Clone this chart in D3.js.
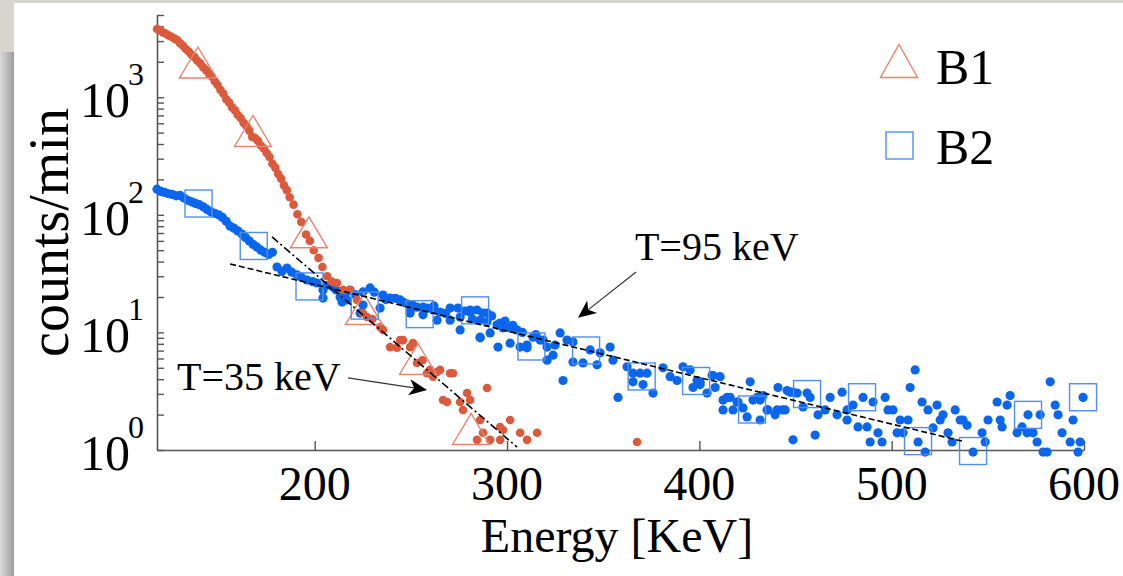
<!DOCTYPE html>
<html>
<head>
<meta charset="utf-8">
<script src="https://cdn.jsdelivr.net/npm/d3@7"></script>
<style>
  body { margin: 0; background: #d6d6cf; }
  svg { display: block; }
</style>
</head>
<body>
<svg id="chart" width="1123" height="576"></svg>
<script>
// ---- data ----
// B1: [energy keV, counts/min]
const b1Points = [
  [118, 3800], [119.5, 3700], [121, 3560], [122.5, 3480], [124, 3350], [125.5, 3270],
  [127, 3150], [128.5, 3060], [130, 2880], [131.5, 2740], [133, 2570], [134.5, 2450],
  [136, 2290], [137.5, 2190], [139, 2040], [140.5, 1940], [142, 1800], [143.5, 1700],
  [145, 1580], [146.5, 1500], [148, 1370], [149.5, 1270], [151, 1150], [152.5, 1070],
  [154, 960], [155.5, 900], [157, 820], [158.5, 775], [160, 705], [161.5, 665],
  [163, 605], [164.5, 570], [166, 520], [167.5, 460], [169, 450], [170.5, 425],
  [172, 388], [173.5, 366], [175, 335], [176.5, 310], [178, 272], [179.5, 252],
  [181, 222], [182.5, 203], [184, 178], [185.5, 162], [187, 141], [189, 122],
  [191, 101], [193, 87], [195.5, 68], [197.5, 60], [199.5, 50], [202, 43],
  [204, 36], [206.5, 30], [209, 27], [211.6, 26.3], [214.8, 23], [218.4, 22.9],
  [222, 18.9], [225, 14.6], [227.2, 13.5], [230, 13], [234, 11.1], [235.5, 10.5],
  [239.2, 7.5], [242.8, 7.4], [244.4, 8.6], [245.9, 8.6], [249.6, 7.5], [251.1, 8.1],
  [253.2, 5.5], [256, 5.8], [258.4, 4.5], [260, 4.8], [261.5, 4.2], [263.6, 4.6],
  [265.2, 4.8], [266.7, 2.66], [268.8, 2.56], [270.4, 4.5], [271.9, 4.5], [275.6, 2.56],
  [277.1, 2.19], [279.2, 3.05], [280.8, 2.66], [284.4, 1.22], [286, 1.8], [287.5, 1.4],
  [289.6, 3.37], [291.2, 1.22], [296.4, 1.22], [296.4, 1.57], [297.9, 1.48], [301.6, 1.8],
  [306.8, 1.4], [310.4, 1.22], [315.6, 1.4], [367.6, 1.17]
]

// B2: [energy keV, counts/min]
const b2Points = [
  [118, 165], [120, 158], [122, 155], [124, 151], [126, 149], [128, 145], [130, 146],
  [132, 139], [134, 133], [136, 129], [138, 125], [140, 122], [142, 117], [144, 111],
  [146, 106], [148, 103], [150, 100], [152, 95], [154, 88], [156, 80], [158, 77],
  [160, 73], [162, 69], [164, 64], [166, 60], [168, 56], [170, 53], [172, 50],
  [174, 48], [176, 46], [178, 48],
  [180.4, 36], [185.6, 35.3], [190.8, 30.8], [196, 27.9], [201.2, 26.3], [204.3, 22.9],
  [209.5, 24.3], [213.2, 20], [218.4, 22.9], [225.1, 22.1], [228.8, 23.9], [235.5, 20.8],
  [239.2, 19.6], [245.9, 18.1], [253.2, 16.4], [258.4, 16.1], [265.2, 14.9], [270.4, 16.1],
  [275.6, 13.5], [280.8, 14.9], [287.5, 14.6], [289.6, 12.3], [296.4, 12], [301.6, 10.9],
  [305.2, 10.5], [313.5, 9.1], [318.7, 8.6], [320.8, 7.5],
  [183, 33], [188, 32.5], [193, 29.5], [199, 27], [206, 25], [211, 23], [216, 21.5],
  [221, 21], [231, 22], [237, 19], [242, 19.5], [248, 17.5], [251, 17], [262, 16.8],
  [268, 14.5], [278, 15.2], [282, 13], [292, 13.8], [299, 12.5], [303, 11.5], [308, 10],
  [315, 9.6], [325, 7.8],
  [204.3, 19.6], [214.2, 18.1], [216.8, 18.9], [225.1, 17.1], [234, 16.1], [249.6, 14.6],
  [256.3, 14.1], [270.4, 12.7], [275.6, 10.5], [286, 9.1], [295.3, 7.5], [301.6, 8.1],
  [310.4, 7.4], [320.8, 5.8], [223.6, 14.6],
  [244.4, 18.9], [249.6, 15.5], [256.3, 16.4], [261.5, 15.5], [263.6, 12.7], [274.5, 16.1],
  [280.8, 15.5], [284.4, 15.5], [289.6, 14.6], [286, 12.7], [291.2, 9.9], [294.8, 11.6],
  [297.9, 10.9], [286, 9.0], [306.8, 7.5], [310.4, 7.8], [317.2, 8.6], [323.9, 6.4],
  [327.6, 9.9], [331.2, 8.6], [334.3, 5.6], [339.5, 5.5], [343.2, 7.1], [348.4, 6.7],
  [353.6, 7.5], [355.1, 5.8], [329.1, 3.9], [357.7, 2.8], [334.3, 8.3], [346.8, 5.3],
  [362.4, 5.1], [365.5, 4.5], [369.2, 4.5], [372.8, 4.5], [375.9, 3.05], [365.5, 3.8],
  [370.7, 3.6], [381.1, 5.0], [384.8, 4.2], [388.4, 3.9], [391.5, 5.1], [395.2, 4.8],
  [396.7, 3.4], [400.4, 3.6], [404, 3.05], [407.1, 4.3], [410.8, 4.2], [398.8, 3.9],
  [412.3, 2.66], [416, 2.8], [419.6, 2.56], [426.4, 3.8], [427.9, 2.66], [412.3, 2.19],
  [417.5, 2.19], [422.7, 2.28], [431.6, 1.8], [435.2, 2.19], [440.4, 2.19], [445.6, 3.2],
  [448.7, 3.1], [448.7, 1.22], [424.8, 1.91], [431.6, 2.66],
  [400.4, 3.8], [406.6, 4.3], [408.2, 3.4], [414.4, 2.8], [420.1, 2.56], [430, 2.8],
  [433.1, 2.9], [435.7, 2.19], [439.4, 1.99], [440.9, 3.4], [443, 2.19], [444.6, 2.19],
  [447.2, 3.1], [450.8, 3.05], [453.9, 2.32], [456, 3.05], [457.6, 2.8], [460.2, 1.34],
  [461.7, 1.99], [465.4, 2.19], [468, 2.8], [471.6, 1.99], [474.2, 3.1], [476.8, 1.8],
  [476.8, 2.19], [479.9, 2.41], [482.5, 1.57], [485.1, 2.8], [487.2, 1.57], [488.8, 1.17],
  [490.3, 2.56], [492.9, 1.4], [495, 1.17], [496.6, 2.8], [498.1, 2.19], [500.7, 2.19],
  [502.8, 1.4], [504.4, 1.8], [505.9, 1.4], [508.5, 1.8], [509.6, 3.4], [512.2, 4.8],
  [513.7, 1.17], [515.8, 2.56], [517.4, 0.96], [518.9, 2.19], [521.5, 1.54], [523.6, 2.41],
  [525.2, 1.8], [526.7, 1.99], [529.3, 1.4], [531.4, 1.17], [533, 2.19], [535.6, 1.8],
  [537.1, 1.8], [539.2, 1.62], [542.3, 0.96], [547, 1.4], [548.6, 1.17], [550.1, 1.8],
  [554.8, 2.56], [556.4, 1.8], [557.4, 1.57], [560, 2.41], [561.6, 2.9], [565.2, 1.4],
  [567.8, 1.57], [570.4, 1.4], [570.9, 1.99], [573.5, 1.4], [575.6, 1.17], [577.2, 1.99],
  [578.7, 0.96], [580.8, 0.96], [582.4, 3.8], [585, 2.41], [586.5, 1.99], [588.6, 1.4],
  [592.8, 1.17], [594.3, 1.8], [596.9, 0.96], [598, 1.17], [599.5, 2.8]
]

// open markers drawn on top of the data
const b1Markers = [[139.3, 1973], [167.9, 516], [197, 71], [225.6, 15.8], [253.7, 5.94], [281.3, 1.51]]
const b2Markers = [
  [139.6, 124.7], [168.3, 54.3], [197.3, 24.6], [226, 16.9], [254.6, 14.3], [283.4, 15.4],
  [312.7, 7.59], [341.1, 7.02], [370, 4.22], [398.3, 3.86], [427.4, 2.21], [456, 2.99],
  [484.6, 2.81], [513.7, 1.19], [542.3, 0.98], [570.9, 1.99], [599.5, 2.81]
]

// exponential fits (end points)
const fit95 = [[156, 38.2], [536.6, 1.19]]
const fit35 = [[177.8, 64.8], [305.2, 1.06]]

// annotations: label position and arrow [from, to]
const notes = [
  { text: 'T=95 keV', at: [366.5, 41.3], from: [367.1, 32.6], to: [336.9, 13.3] },
  { text: 'T=35 keV', at: [128.4, 3.24], from: [217.3, 4.1], to: [258.4, 3.24] },
]

const xTicks = [200, 300, 400, 500, 600]
const yDecades = [1, 10, 100, 1000]

// ---- drawing ----
const width = 1123
const height = 576
const font = '"Liberation Serif", "Times New Roman", serif'
const red = '#dc5a3c'
const blue = '#0a66ee'

const svg = d3.select('#chart')

// page look: white sheet with a shadow on the left
const defs = svg.append('defs')
const grad = defs.append('linearGradient').attr('id', 'shadow')
grad.append('stop').attr('offset', '0%').attr('stop-color', '#dadada')
grad.append('stop').attr('offset', '100%').attr('stop-color', '#9c9c9c')

svg.append('rect').attr('width', width).attr('height', height).attr('fill', '#d6d6cf')
svg.append('rect').attr('x', 0).attr('y', 52).attr('width', 14).attr('height', height - 52)
  .attr('fill', 'url(#shadow)')
svg.append('rect').attr('x', 14).attr('y', 3).attr('width', width - 14).attr('height', height - 3)
  .attr('fill', '#fff')

const x = d3.scaleLinear().domain([118, 600]).range([157, 1084])
const y = d3.scaleLog().domain([1, 5000]).range([450, 15])

// axes
const axisColor = '#555'
const xAxis = svg.append('g')
  .attr('transform', `translate(0,${y(1)})`)
  .call(d3.axisBottom(x).tickValues(xTicks).tickSize(-9).tickSizeOuter(0).tickFormat(''))
const yAxis = svg.append('g')
  .attr('transform', `translate(${x(118)},0)`)
  .call(d3.axisLeft(y).tickValues(y.ticks()).tickSize(-7).tickSizeOuter(0).tickFormat(''))
;[xAxis, yAxis].forEach((g) => {
  g.select('.domain').attr('stroke', axisColor).attr('stroke-width', 1.6)
  g.selectAll('.tick line').attr('stroke', axisColor).attr('stroke-width', 1.4)
})

// x tick labels
svg.append('g').selectAll('text').data(xTicks).join('text')
  .attr('x', (d) => x(d))
  .attr('y', y(1) + 50)
  .attr('text-anchor', 'middle')
  .style('font', `48px ${font}`)
  .text((d) => d)

// y tick labels 10^n
const yLab = svg.append('g').selectAll('g').data(yDecades).join('g')
yLab.append('text')
  .attr('x', 130).attr('y', (d) => y(d) + 20)
  .attr('text-anchor', 'end')
  .style('font', `50px ${font}`)
  .text('10')
yLab.append('text')
  .attr('x', 128).attr('y', (d) => y(d) - 12)
  .style('font', `32px ${font}`)
  .text((d) => Math.round(Math.log10(d)))

// axis titles
svg.append('text')
  .attr('transform', `translate(68,${(y(1) + y(5000)) / 2}) rotate(-90)`)
  .attr('text-anchor', 'middle')
  .style('font', `56px ${font}`)
  .text('counts/min')
svg.append('text')
  .attr('x', 617).attr('y', 552)
  .attr('text-anchor', 'middle')
  .style('font', `48px ${font}`)
  .text('Energy [KeV]')

// data dots
svg.append('g').selectAll('circle').data(b2Points).join('circle')
  .attr('cx', (d) => x(d[0])).attr('cy', (d) => y(d[1])).attr('r', 4.6)
  .attr('fill', blue)
svg.append('g').selectAll('circle').data(b1Points).join('circle')
  .attr('cx', (d) => x(d[0])).attr('cy', (d) => y(d[1])).attr('r', 4.3)
  .attr('fill', red)

// markers
const tri = (w, h) => `M0,${-h / 2}L${w / 2},${h / 2}L${-w / 2},${h / 2}Z`
svg.append('g').selectAll('path').data(b1Markers).join('path')
  .attr('transform', (d) => `translate(${x(d[0])},${y(d[1])})`)
  .attr('d', tri(37, 31))
  .attr('fill', 'none').attr('stroke', '#e8836c').attr('stroke-width', 1.4)
svg.append('g').selectAll('rect').data(b2Markers).join('rect')
  .attr('x', (d) => x(d[0]) - 13.5).attr('y', (d) => y(d[1]) - 13.5)
  .attr('width', 27).attr('height', 27)
  .attr('fill', 'none').attr('stroke', '#4f8ff2').attr('stroke-width', 1.4)

// fit lines
const line = d3.line().x((d) => x(d[0])).y((d) => y(d[1]))
svg.append('path').attr('d', line(fit95))
  .attr('fill', 'none').attr('stroke', '#000').attr('stroke-width', 1.6)
  .attr('stroke-dasharray', '6,3')
svg.append('path').attr('d', line(fit35))
  .attr('fill', 'none').attr('stroke', '#000').attr('stroke-width', 1.6)
  .attr('stroke-dasharray', '8,3,2,3')

// annotations with arrows
notes.forEach((n) => {
  svg.append('text')
    .attr('x', x(n.at[0])).attr('y', y(n.at[1]))
    .style('font', `40px ${font}`)
    .text(n.text)
  const x0 = x(n.from[0]), y0 = y(n.from[1])
  const x1 = x(n.to[0]), y1 = y(n.to[1])
  const ang = Math.atan2(y1 - y0, x1 - x0)
  svg.append('line')
    .attr('x1', x0).attr('y1', y0)
    .attr('x2', x1 - 10 * Math.cos(ang)).attr('y2', y1 - 10 * Math.sin(ang))
    .attr('stroke', '#333').attr('stroke-width', 1.2)
  // matlab style arrow head
  svg.append('path')
    .attr('transform', `translate(${x1},${y1}) rotate(${(ang * 180) / Math.PI})`)
    .attr('d', 'M0,0L-18,-8L-13,0L-18,8Z')
    .attr('fill', '#000')
})

// legend
const legend = svg.append('g')
legend.append('path')
  .attr('transform', 'translate(899,61)')
  .attr('d', tri(37, 33))
  .attr('fill', 'none').attr('stroke', '#e8836c').attr('stroke-width', 1.4)
legend.append('rect')
  .attr('x', 886).attr('y', 132).attr('width', 27).attr('height', 27)
  .attr('fill', 'none').attr('stroke', '#4f8ff2').attr('stroke-width', 1.4)
legend.append('text').attr('x', 936).attr('y', 84).style('font', `50px ${font}`).text('B1')
legend.append('text').attr('x', 936).attr('y', 164).style('font', `50px ${font}`).text('B2')
</script>
</body>
</html>
